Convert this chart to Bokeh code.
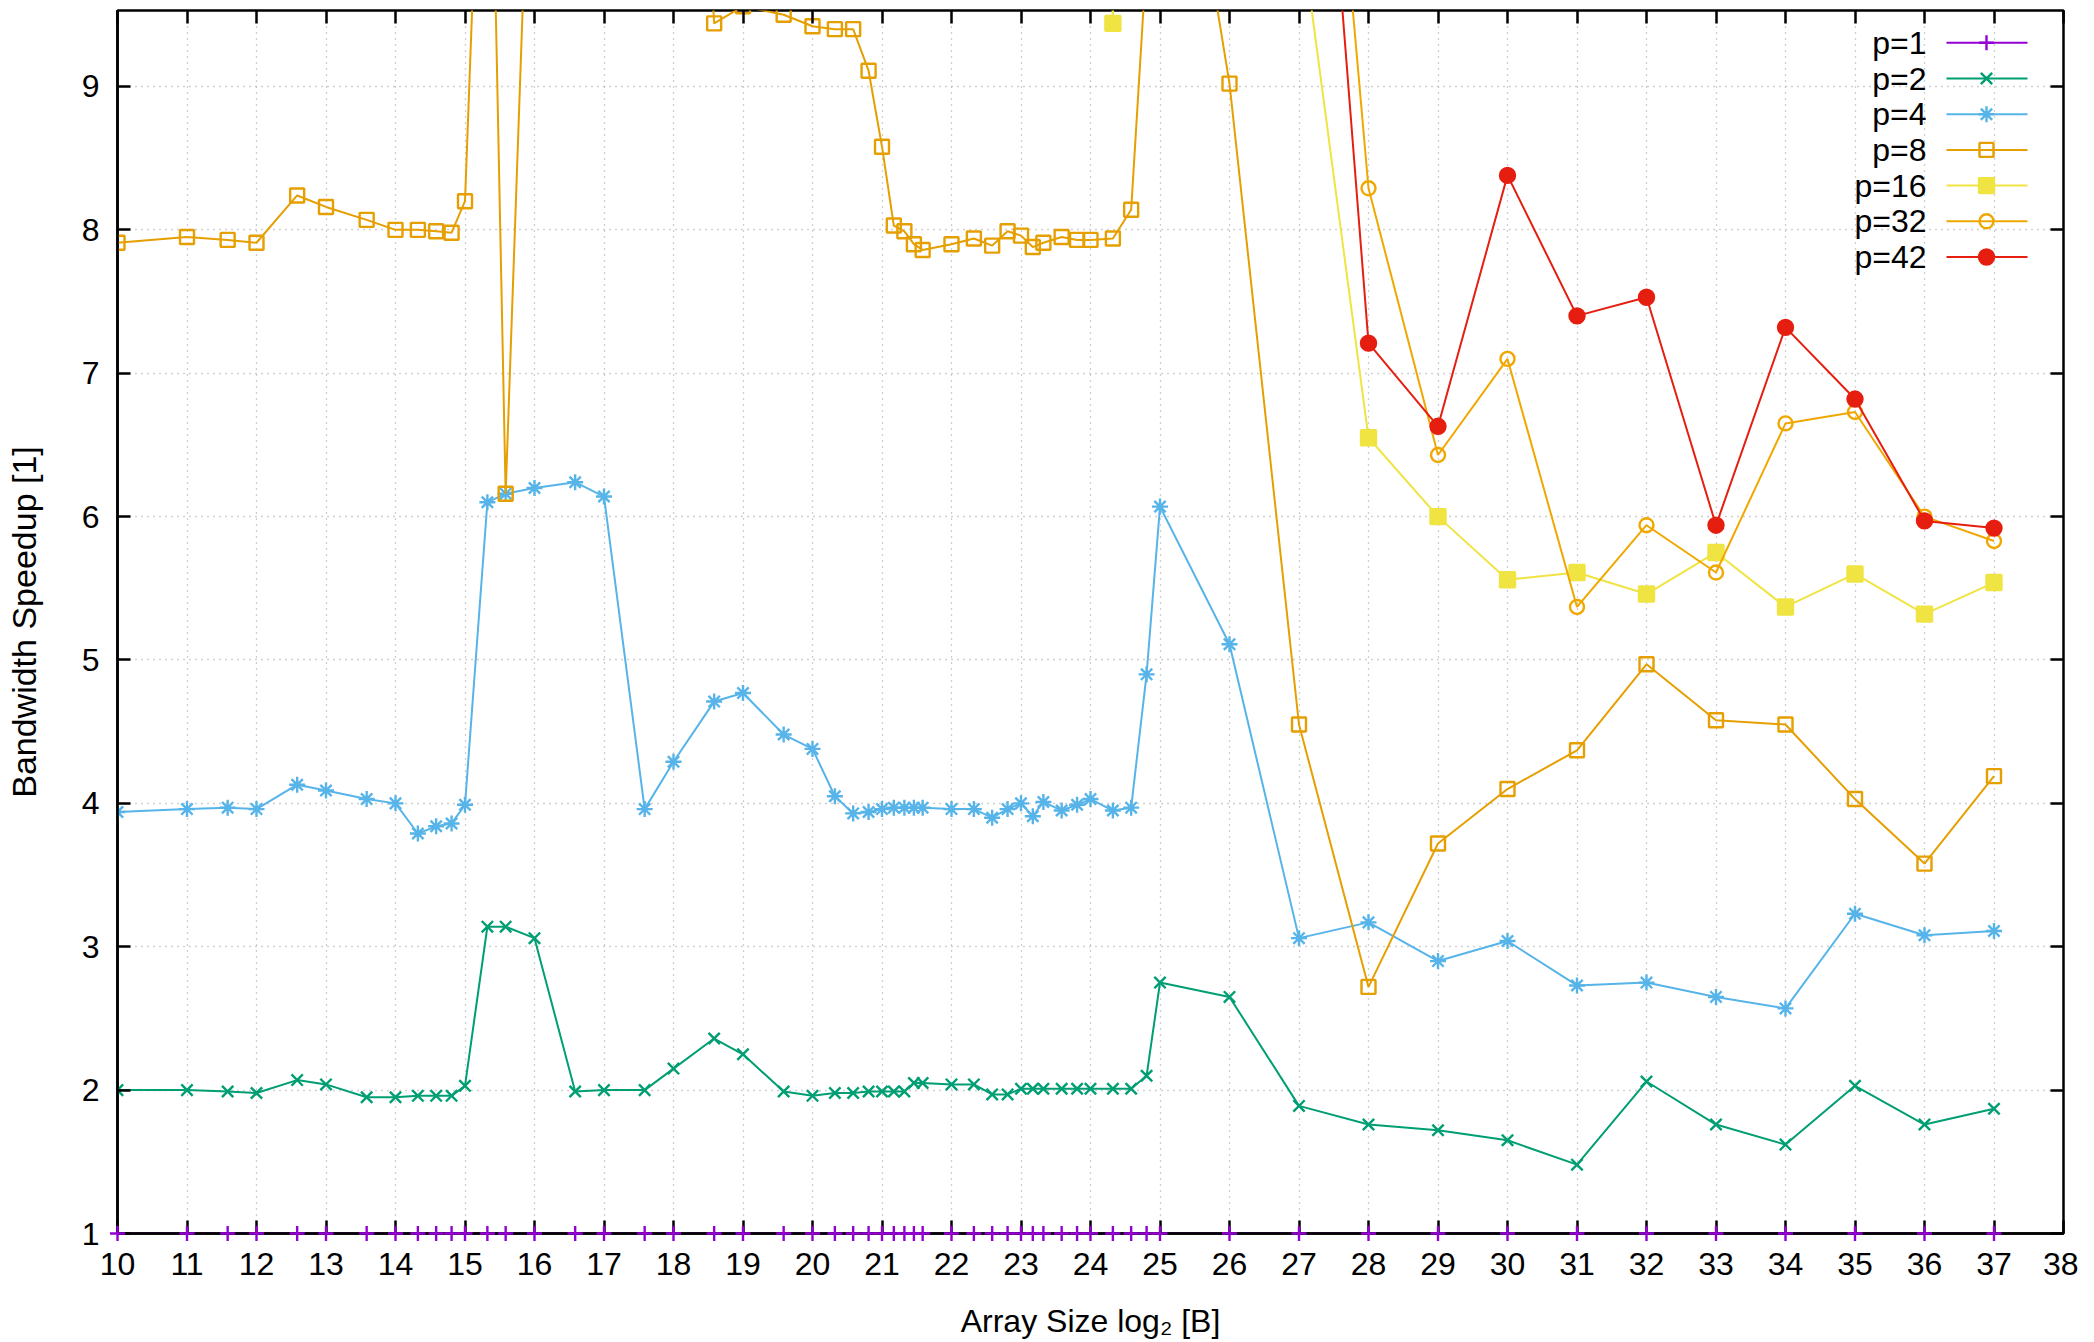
from bokeh.plotting import figure
from bokeh.models import LinearAxis, Range1d, FixedTicker
from bokeh.embed import file_html
from bokeh.resources import INLINE
from bokeh.core.properties import value

FONT = "Liberation Sans"

# ---------------- data ----------------
x_log2 = [10, 11, 11.585, 12, 12.585, 13, 13.585, 14, 14.322, 14.585, 14.807, 15,
          15.322, 15.585, 16, 16.585, 17, 17.585, 18, 18.585, 19, 19.585,
          20, 20.322, 20.585, 20.807,
          21, 21.17, 21.322, 21.459, 21.585,
          22, 22.322, 22.585, 22.807,
          23, 23.17, 23.322, 23.585, 23.807,
          24, 24.322, 24.585, 24.807,
          25, 26,
          27, 28, 29, 30, 31, 32, 33, 34, 35, 36, 37]

p1 = [1.0, 1.0, 1.0, 1.0, 1.0, 1.0, 1.0, 1.0, 1.0, 1.0, 1.0, 1.0,
      1.0, 1.0, 1.0, 1.0, 1.0, 1.0, 1.0, 1.0, 1.0, 1.0,
      1.0, 1.0, 1.0, 1.0,
      1.0, 1.0, 1.0, 1.0, 1.0,
      1.0, 1.0, 1.0, 1.0,
      1.0, 1.0, 1.0, 1.0, 1.0,
      1.0, 1.0, 1.0, 1.0,
      1.0, 1.0,
      1.0, 1.0, 1.0, 1.0, 1.0, 1.0, 1.0, 1.0, 1.0, 1.0, 1.0]

p2 = [2.00, 2.00, 1.99, 1.98, 2.07, 2.04, 1.95, 1.95, 1.96, 1.96, 1.96, 2.03,
      3.14, 3.14, 3.06, 1.99, 2.00, 2.00, 2.15, 2.36, 2.25, 1.99,
      1.96, 1.98, 1.98, 1.99,
      1.99, 1.99, 1.99, 2.05, 2.05,
      2.04, 2.04, 1.97, 1.97,
      2.01, 2.01, 2.01, 2.01, 2.01,
      2.01, 2.01, 2.01, 2.10,
      2.75, 2.65,
      1.89, 1.76, 1.72, 1.65, 1.48, 2.06, 1.76, 1.62, 2.03, 1.76, 1.87]

p4 = [3.94, 3.96, 3.97, 3.96, 4.13, 4.09, 4.03, 4.00, 3.79, 3.84, 3.86, 3.99,
      6.10, 6.16, 6.20, 6.24, 6.14, 3.96, 4.29, 4.71, 4.77, 4.48,
      4.38, 4.05, 3.93, 3.94,
      3.96, 3.97, 3.97, 3.97, 3.97,
      3.96, 3.96, 3.90, 3.96,
      4.00, 3.91, 4.01, 3.95, 3.99,
      4.03, 3.95, 3.97, 4.90,
      6.07, 5.11,
      3.06, 3.17, 2.90, 3.04, 2.73, 2.75, 2.65, 2.57, 3.23, 3.08, 3.11]

p8 = [7.91, 7.95, 7.93, 7.91, 8.24, 8.16, 8.07, 8.00, 8.00, 7.99, 7.98, 8.20,
      12.4, 6.16, 11.9, 13.0, 13.4, 12.6, 14.5, 9.44, 9.56, 9.50,
      9.42, 9.40, 9.40, 9.11,
      8.58, 8.03, 7.99, 7.90, 7.86,
      7.90, 7.94, 7.89, 7.99,
      7.96, 7.88, 7.91, 7.95, 7.93,
      7.93, 7.94, 8.14, 9.90,
      12.0, 9.02,
      4.55, 2.72, 3.72, 4.10, 4.37, 4.97, 4.58, 4.55, 4.03, 3.58, 4.19]

p16 = [15.6, 15.8, 15.7, 15.6, 16.2, 16.0, 15.9, 15.8, 15.5, 15.6, 15.7, 16.1,
       22.5, 21.8, 22.0, 23.1, 22.6, 17.9, 18.4, 17.6, 17.2, 16.8,
       16.2, 15.9, 15.7, 15.8,
       15.8, 15.9, 15.8, 15.7, 15.9,
       15.8, 15.9, 15.7, 15.8,
       15.9, 15.8, 15.7, 15.9, 15.8,
       15.7, 9.44, 15.9, 16.4,
       17.5, 15.0,
       10.2, 6.55, 6.00, 5.56, 5.61, 5.46, 5.75, 5.37, 5.60, 5.32, 5.54]

p32 = [29.5, 30.1, 29.8, 29.7, 30.6, 30.2, 29.9, 29.6, 29.2, 29.4, 29.5, 30.3,
       33.0, 32.4, 32.8, 33.5, 32.9, 30.8, 31.2, 30.5, 30.0, 29.6,
       29.2, 28.9, 28.7, 28.8,
       28.9, 29.0, 28.8, 28.7, 28.9,
       28.8, 28.9, 28.6, 28.8,
       28.9, 28.7, 28.8, 28.9, 28.8,
       28.7, 28.9, 29.1, 29.6,
       31.5, 25.0,
       13.8, 8.29, 6.43, 7.10, 5.37, 5.94, 5.61, 6.65, 6.73, 6.00, 5.83]

p42 = [36.8, 37.4, 37.1, 36.9, 38.0, 37.6, 37.2, 36.9, 36.3, 36.6, 36.8, 37.7,
       40.5, 39.8, 40.2, 41.0, 40.3, 38.2, 38.6, 37.9, 37.4, 36.9,
       36.4, 36.1, 35.8, 35.9,
       36.0, 36.1, 35.9, 35.8, 36.0,
       35.9, 36.0, 35.7, 35.9,
       36.0, 35.8, 35.9, 36.0, 35.9,
       35.8, 36.0, 36.2, 36.8,
       39.0, 30.0,
       13.4, 7.21, 6.63, 8.38, 7.40, 7.53, 5.94, 7.32, 6.82, 5.97, 5.92]

series_labels = ["p=1", "p=2", "p=4", "p=8", "p=16", "p=32", "p=42"]
series_values = [p1, p2, p4, p8, p16, p32, p42]
series_colors = ["#9400D3", "#009E73", "#56B4E9", "#E69F00", "#F0E442", "#F0A800", "#E51E10"]
series_markers = ["cross", "x", "asterisk", "square", "square", "circle", "circle"]
series_filled = [False, False, False, False, True, False, True]
series_msize = [15, 16, 16, 14, 15, 14, 15]

x_ticks = list(range(10, 39))
y_ticks = list(range(1, 10))
x_title = "Array Size log\u2082 [B]"
y_title = "Bandwidth Speedup [1]"

X_START, X_END = 10, 38
Y_START, Y_END = 1, 9.53

FIG_W, FIG_H = 2078, 1341
# frame geometry (page pixels)
FRAME_L, FRAME_T, FRAME_R, FRAME_B = 117, 10, 2063, 1233
FRAME_W, FRAME_H = FRAME_R - FRAME_L, FRAME_B - FRAME_T


def px_to_x(px):
    return X_START + (px - FRAME_L) * (X_END - X_START) / FRAME_W


def py_to_y(py):
    return Y_END - (py - FRAME_T) * (Y_END - Y_START) / FRAME_H


p = figure(width=FIG_W, height=FIG_H,
           x_range=Range1d(X_START, X_END), y_range=Range1d(Y_START, Y_END),
           output_backend="svg", toolbar_location=None,
           min_border_left=FRAME_L, min_border_right=FIG_W - FRAME_R,
           min_border_top=FRAME_T, min_border_bottom=FIG_H - FRAME_B)
p.background_fill_color = "white"
p.border_fill_color = "white"
p.outline_line_color = "black"
p.outline_line_width = 2.5

xt = FixedTicker(ticks=x_ticks)
yt = FixedTicker(ticks=y_ticks)


def style_axis(ax, labels=True):
    ax.major_tick_in = 13
    ax.major_tick_out = 0
    ax.major_tick_line_width = 2.5
    ax.major_tick_line_color = "black"
    ax.minor_tick_line_color = None
    ax.axis_line_width = 2.5
    ax.axis_line_color = "black"
    if labels:
        ax.major_label_text_font = FONT
        ax.major_label_text_font_size = "32px"
        ax.major_label_text_color = "black"
        ax.axis_label_text_font = FONT
        ax.axis_label_text_font_size = "32px"
        ax.axis_label_text_font_style = "normal"
        ax.axis_label_text_color = "black"
    else:
        ax.major_label_text_font_size = "1px"
        ax.major_label_text_color = None
        ax.major_label_standoff = 0
        ax.axis_line_color = None


xa = p.xaxis[0]
xa.ticker = xt
style_axis(xa)
xa.axis_label = x_title
xa.major_label_standoff = 19
xa.axis_label_standoff = 25

ya = p.yaxis[0]
ya.ticker = yt
style_axis(ya)
ya.axis_label = y_title
ya.axis_label_text_font_size = "34px"
ya.major_label_standoff = 18
ya.axis_label_standoff = 36

top = LinearAxis(ticker=xt)
style_axis(top, labels=False)
p.add_layout(top, "above")
right = LinearAxis(ticker=yt)
style_axis(right, labels=False)
p.add_layout(right, "right")

for g in (p.xgrid[0], p.ygrid[0]):
    g.grid_line_color = "#a0a0a0"
    g.grid_line_dash = "1 5"
    g.grid_line_width = 1.3
p.xgrid[0].ticker = xt
p.ygrid[0].ticker = yt

# ---------------- series ----------------
for k, (lab, vals, col, mk, filled, ms) in enumerate(zip(series_labels, series_values, series_colors,
                                                         series_markers, series_filled, series_msize)):
    p.line(x_log2, vals, line_color=col, line_width=2)
    r = p.scatter(x_log2, vals, marker=mk, size=ms, line_color=col, line_width=2.4,
                  fill_color=col if filled else None)
    if k == 0:
        r.level = "overlay"

# ---------------- key (gnuplot style: text right-aligned, sample to the right) ----------------
key_text_px = 1926
key_line_px = (1946, 2027)
key_mark_px = 1986
key_row0_py = 42.3
key_row_step = 35.7
for i, (lab, col, mk, filled, ms) in enumerate(zip(series_labels, series_colors, series_markers,
                                                  series_filled, series_msize)):
    yy = py_to_y(key_row0_py + i * key_row_step)
    p.text(x=[px_to_x(key_text_px)], y=[yy], text=[lab], text_font=value(FONT),
           text_font_size=value("32px"), text_align="right", text_baseline="middle",
           text_color="black")
    p.segment(x0=[px_to_x(key_line_px[0])], y0=[yy], x1=[px_to_x(key_line_px[1])], y1=[yy],
              line_color=col, line_width=2)
    p.scatter(x=[px_to_x(key_mark_px)], y=[yy], marker=mk, size=ms, line_color=col,
              line_width=2.4, fill_color=col if filled else None)

open("out.html", "w").write(file_html(p, INLINE))
